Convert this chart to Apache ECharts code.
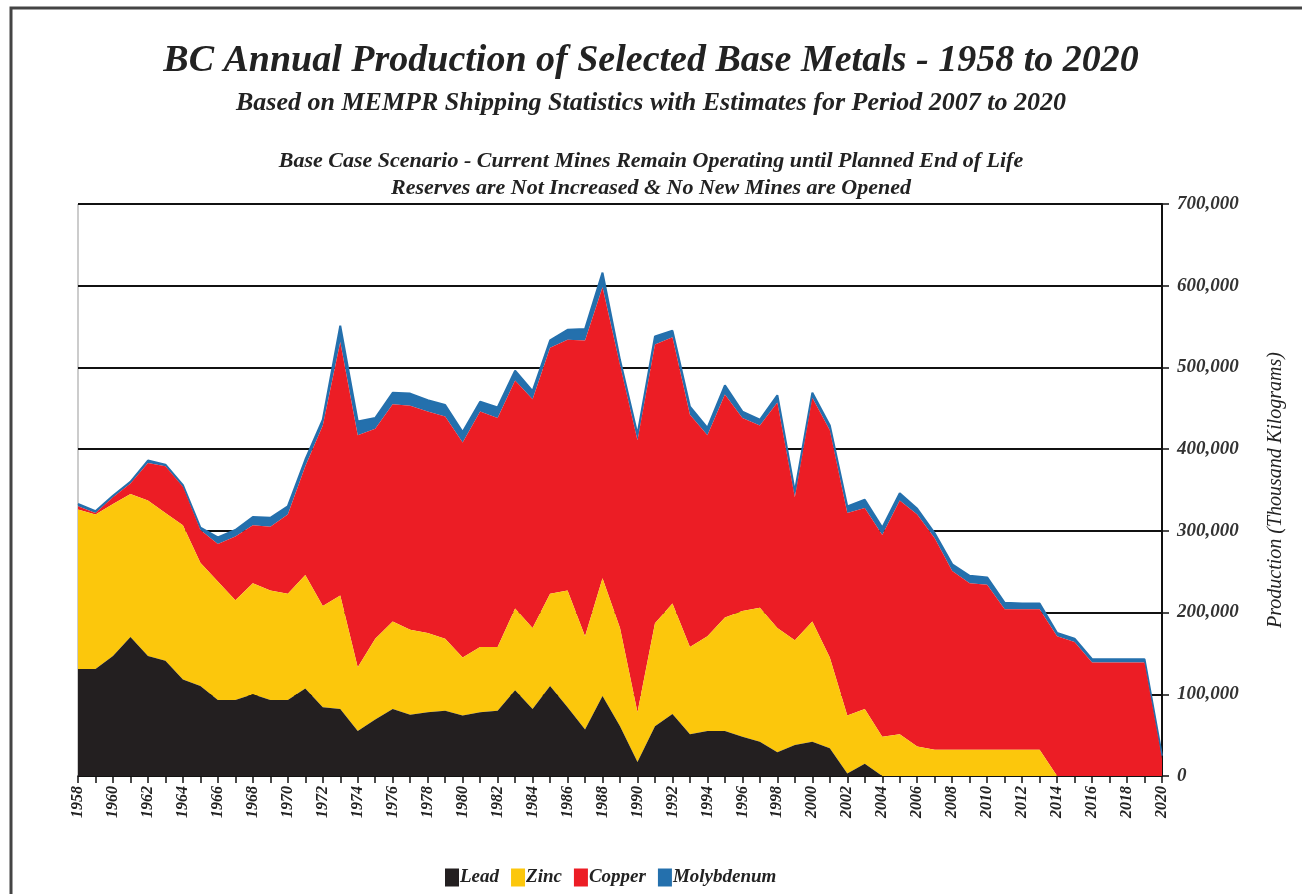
<!DOCTYPE html>
<html>
<head>
<meta charset="utf-8">
<script src="https://cdn.jsdelivr.net/npm/echarts@6/dist/echarts.min.js"></script>
<style>
  html, body { margin: 0; padding: 0; background: #ffffff; }
  #chart { width: 1302px; height: 894px; }
</style>
</head>
<body>
<div id="chart"></div>
<script>
const years = ['1958','1959','1960','1961','1962','1963','1964','1965','1966','1967','1968','1969','1970','1971','1972','1973','1974','1975','1976','1977','1978','1979','1980','1981','1982','1983','1984','1985','1986','1987','1988','1989','1990','1991','1992','1993','1994','1995','1996','1997','1998','1999','2000','2001','2002','2003','2004','2005','2006','2007','2008','2009','2010','2011','2012','2013','2014','2015','2016','2017','2018','2019','2020'];

// Thousand kilograms
const lead = [131000,131000,147000,170000,147000,141000,118000,110000,93000,93000,100000,93000,93000,107000,84000,82000,55000,69000,82000,75000,78000,80000,74000,78000,80000,105000,82000,110000,84000,57000,98000,61000,17000,61000,76000,51000,55000,55000,48000,42000,29000,38000,42000,34000,3000,15000,0,0,0,0,0,0,0,0,0,0,0,0,0,0,0,0,0];
const zinc = [195000,189000,186000,175000,190000,181000,189000,151000,145000,122000,136000,134000,130000,139000,124000,139000,78000,99000,107000,104000,97000,88000,71000,80000,78000,100000,99000,113000,143000,114000,144000,120000,61000,126000,135000,107000,116000,139000,154000,164000,152000,128000,147000,111000,71000,67000,48000,51000,36000,32000,32000,32000,32000,32000,32000,32000,0,0,0,0,0,0,0];
const copper = [4000,2000,8000,13000,46000,57000,47000,40000,46000,78000,71000,78000,97000,133000,221000,310000,284000,257000,266000,274000,271000,272000,263000,288000,280000,279000,280000,301000,307000,362000,356000,322000,333000,341000,326000,284000,246000,273000,236000,223000,276000,175000,274000,278000,248000,246000,247000,286000,284000,259000,219000,204000,202000,172000,172000,172000,171000,164000,139000,139000,139000,139000,21000];
const molybdenum = [3000,2000,2000,2000,3000,2000,2000,3000,8000,8000,10000,11000,10000,8000,7000,20000,17000,13000,14000,15000,14000,14000,13000,12000,13000,12000,10000,9000,12000,14000,18000,6000,7000,10000,8000,10000,9000,11000,8000,7000,9000,7000,6000,6000,8000,10000,9000,9000,7000,6000,8000,9000,9000,8000,7000,7000,4000,4000,4000,4000,4000,4000,4000];

const yTicks = [0,100000,200000,300000,400000,500000,600000,700000];

const serif = "'Liberation Serif', 'DejaVu Serif', serif";

const chart = echarts.init(document.getElementById('chart'));

function areaSeries(name, data, color, z) {
  return {
    name: name,
    type: 'line',
    stack: 'total',
    data: data,
    symbol: 'none',
    z: z,
    lineStyle: { width: name === 'Molybdenum' ? 2 : 0, color: color },
    areaStyle: { color: color, opacity: 1 },
    itemStyle: { color: color },
    emphasis: { disabled: true }
  };
}

chart.setOption({
  animation: false,
  backgroundColor: '#ffffff',
  title: [
    { text: 'BC Annual Production of Selected Base Metals - 1958 to 2020', left: 'center', top: 37,
      textStyle: { fontFamily: serif, fontStyle: 'italic', fontWeight: 'bold', fontSize: 38, color: '#222' } },
    { text: 'Based on MEMPR Shipping Statistics with Estimates for Period 2007 to 2020', left: 'center', top: 85,
      textStyle: { fontFamily: serif, fontStyle: 'italic', fontWeight: 'bold', fontSize: 26, color: '#222' } },
    { text: 'Base Case Scenario - Current Mines Remain Operating until Planned End of Life', left: 'center', top: 145,
      textStyle: { fontFamily: serif, fontStyle: 'italic', fontWeight: 'bold', fontSize: 22, color: '#222' } },
    { text: 'Reserves are Not Increased & No New Mines are Opened', left: 'center', top: 172,
      textStyle: { fontFamily: serif, fontStyle: 'italic', fontWeight: 'bold', fontSize: 22, color: '#222' } }
  ],
  legend: {
    bottom: 2,
    left: 440,
    icon: 'rect',
    itemWidth: 14,
    itemHeight: 18,
    itemGap: 12,
    data: ['Lead', 'Zinc', 'Copper', 'Molybdenum'],
    textStyle: { fontFamily: serif, fontStyle: 'italic', fontWeight: 'bold', fontSize: 19, color: '#222', padding: [0, 0, 0, -4] }
  },
  grid: { left: 78, right: 140, top: 204, bottom: 118, show: true, borderColor: '#999', borderWidth: 1 },
  xAxis: {
    type: 'category',
    data: years,
    boundaryGap: false,
    axisLine: { show: true, lineStyle: { color: '#111', width: 1.5 } },
    axisTick: { show: true, interval: 0, length: 7, lineStyle: { color: '#111', width: 1.5 } },
    axisLabel: { interval: 1, rotate: 90, margin: 10, fontFamily: serif, fontStyle: 'italic', fontWeight: 'bold', fontSize: 16, color: '#222' },
    splitLine: { show: false }
  },
  yAxis: {
    type: 'value',
    position: 'right',
    min: yTicks[0],
    max: yTicks[yTicks.length - 1],
    interval: 100000,
    name: 'Production (Thousand Kilograms)',
    nameLocation: 'middle',
    nameGap: 104,
    nameRotate: 90,
    nameTextStyle: { fontFamily: serif, fontStyle: 'italic', fontWeight: 'normal', fontSize: 20, color: '#222' },
    axisLine: { show: true, lineStyle: { color: '#111', width: 2 } },
    axisTick: { show: true, length: 7, lineStyle: { color: '#111', width: 1.5 } },
    axisLabel: { margin: 15, fontFamily: serif, fontStyle: 'italic', fontWeight: 'bold', fontSize: 19, color: '#333',
      formatter: v => v.toLocaleString('en-US') },
    splitLine: { show: true, lineStyle: { color: '#111', width: 2 } }
  },
  graphic: [
    { type: 'rect', shape: { x: 11, y: 8, width: 1400, height: 1000 }, style: { fill: 'none', stroke: '#444', lineWidth: 3 }, silent: true, z: 100 }
  ],
  series: [
    areaSeries('Lead', lead, '#231f20', 5),
    areaSeries('Zinc', zinc, '#fcc70c', 4),
    areaSeries('Copper', copper, '#ec1d25', 3),
    areaSeries('Molybdenum', molybdenum, '#2470ad', 2)
  ]
});
</script>
</body>
</html>
